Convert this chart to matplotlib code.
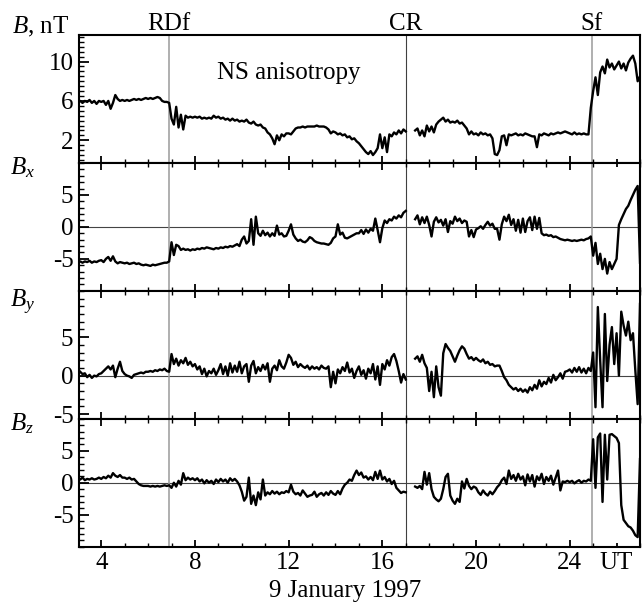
import numpy as np
import matplotlib
matplotlib.use("Agg")
import matplotlib.pyplot as plt
from matplotlib.ticker import MultipleLocator, FixedLocator

plt.rcParams['font.family'] = ['Liberation Serif', 'DejaVu Serif']
plt.rcParams['mathtext.fontset'] = 'custom'
plt.rcParams['mathtext.rm'] = 'Liberation Serif'
plt.rcParams['mathtext.it'] = 'Liberation Serif:italic'
plt.rcParams['axes.unicode_minus'] = False

nan = np.nan
# time grid in hours UT (9 January 1997), 0.1 h sampling
t = np.round(np.arange(3.0, 27.05, 0.1), 1)

B = (
    [5.9, 6.0, 5.8, 6.0, 5.9, 6.1, 5.8, 6.0, 5.7, 6.0] +
    [5.9, 6.0, 5.6, 6.0, 5.2, 5.8, 6.6, 6.2, 6.0, 6.1] +
    [6.0, 6.1, 6.0, 6.1, 6.2, 6.1, 6.2, 6.1, 6.2, 6.3] +
    [6.2, 6.3, 6.2, 6.3, 6.4, 6.3, 6.0, 5.9, 5.9, 5.8] +
    [4.2, 3.6, 5.4, 3.3, 4.6, 3.1, 4.5, 4.3, 4.4, 4.3] +
    [4.4, 4.3, 4.4, 4.2, 4.3, 4.2, 4.3, 4.2, 4.5, 4.3] +
    [4.4, 4.2, 4.3, 4.1, 4.2, 4.0, 4.2, 4.0, 4.1, 3.9] +
    [4.0, 3.9, 4.1, 3.8, 3.7, 3.9, 3.6, 3.5, 3.6, 3.3] +
    [3.2, 2.8, 2.6, 2.2, 1.6, 2.5, 2.0, 2.6, 2.4, 2.7] +
    [2.7, 2.6, 2.9, 3.2, 3.3, 3.3, 3.4, 3.3, 3.4, 3.4] +
    [3.4, 3.4, 3.5, 3.4, 3.4, 3.4, 3.3, 3.1, 2.7, 2.9] +
    [2.8, 2.6, 2.7, 2.5, 2.6, 2.3, 2.4, 2.1, 2.2, 1.9] +
    [1.7, 1.4, 1.1, 0.8, 0.6, 0.9, 0.5, 0.8, 1.2, 2.6] +
    [1.2, 2.3, 0.8, 2.6, 2.4, 2.8, 2.6, 3.0, 2.7, 3.1] +
    [2.9, nan, nan, nan, 3.0, 3.2, 2.5, 3.0, 2.4, 3.5] +
    [2.9, 3.4, 2.8, 3.6, 3.9, 4.1, 4.3, 3.9, 4.1, 3.8] +
    [3.9, 3.8, 4.0, 3.7, 3.8, 3.5, 3.2, 2.6, 2.9, 2.6] +
    [2.7, 2.5, 2.8, 2.6, 2.7, 2.5, 2.6, 2.2, 0.6, 0.5] +
    [1.0, 2.4, 2.5, 1.5, 2.6, 2.5, 2.6, 2.7, 2.5, 2.6] +
    [2.5, 2.7, 2.6, 2.5, 2.4, 2.4, 1.3, 2.6, 2.5, 2.7] +
    [2.6, 2.5, 2.7, 2.6, 2.7, 2.8, 2.7, 2.8, 2.9, 2.8] +
    [2.7, 2.6, 2.8, 2.6, 2.7, 2.6, 2.7, 2.6, 2.6, 5.3] +
    [7.0, 8.4, 6.6, 8.9, 9.5, 8.8, 10.2, 9.4, 9.8, 9.2] +
    [9.6, 10.0, 9.3, 9.8, 9.1, 9.9, 10.3, 10.6, 9.8, 8.0] +
    [8.5]
)

Bx = (
    [-5.5, -5.4, -5.6, -5.4, -5.5, -5.3, -5.6, -5.4, -5.5, -5.3] +
    [-5.2, -5.5, -5.0, -4.7, -5.3, -4.6, -5.4, -5.7, -5.5, -5.6] +
    [-5.7, -5.6, -5.8, -5.7, -5.6, -5.8, -5.7, -5.9, -6.0, -5.9] +
    [-6.0, -6.1, -5.9, -6.0, -5.9, -5.8, -5.7, -5.6, -5.6, -5.4] +
    [-2.4, -4.4, -2.8, -3.0, -3.6, -3.4, -3.6, -3.5, -3.7, -3.5] +
    [-3.6, -3.4, -3.5, -3.3, -3.4, -3.2, -3.3, -3.4, -3.5, -3.3] +
    [-3.4, -3.2, -3.3, -3.1, -3.2, -3.0, -3.1, -2.9, -2.7, -3.0] +
    [-2.0, -1.5, -2.6, -2.2, 1.2, -2.8, 1.6, -1.0, -1.4, -0.6] +
    [-1.3, -0.9, -1.5, -1.0, -1.4, 0.2, -1.2, -1.0, -1.5, -1.4] +
    [-0.6, 0.4, -1.2, -1.8, -2.2, -2.0, -2.3, -2.4, -2.1, -1.6] +
    [-1.8, -2.2, -2.4, -2.5, -2.6, -2.6, -2.7, -2.8, -2.5, -1.8] +
    [-1.5, 0.4, -1.2, -0.9, -1.7, -1.8, -1.6, -1.4, -1.2, -1.0] +
    [-1.0, -0.5, -1.1, -0.4, -0.9, -0.3, -0.6, 1.3, -0.5, -2.4] +
    [-0.2, 1.0, 0.6, 1.2, 1.0, 1.6, 1.3, 1.8, 1.5, 2.2] +
    [2.5, nan, nan, nan, 1.2, 1.8, 0.4, 1.5, 0.6, 1.6] +
    [0.3, -1.5, 0.8, 1.5, 0.7, 1.1, 0.2, 1.2, -0.8, 0.9] +
    [0.5, 1.6, 0.9, 1.3, 0.6, 1.0, 0.8, -1.5, -0.5, -1.6] +
    [-0.4, -0.2, 0.1, -0.3, 0.3, 0.8, 0.2, 0.5, -0.3, -0.3] +
    [-2.0, 0.4, 1.6, 0.9, 1.9, 0.3, 1.2, -0.6, 1.1, -0.9] +
    [1.3, -0.8, 0.9, 1.5, -0.5, 1.6, -0.3, 1.4, -1.0, -1.3] +
    [-1.2, -1.4, -1.3, -1.6, -1.5, -1.7, -1.9, -2.0, -2.1, -2.0] +
    [-2.1, -2.2, -2.1, -2.2, -2.1, -2.0, -2.1, -1.9, -1.8, -1.5] +
    [-4.5, -2.5, -5.8, -4.2, -6.6, -5.0, -7.3, -5.5, -6.6, -5.8] +
    [-5.0, 0.3, 1.2, 2.0, 2.8, 3.3, 4.2, 5.0, 5.8, 6.4] +
    [-5.6]
)

By = (
    [0.8, 0.5, 0.2, 0.3, -0.2, 0.1, -0.3, 0.0, -0.1, 0.2] +
    [0.3, 0.6, 0.9, 1.2, 0.8, 1.3, -0.2, 0.9, 1.8, 0.6] +
    [0.2, 0.0, -0.1, -0.3, 0.1, 0.2, 0.3, 0.4, 0.3, 0.5] +
    [0.5, 0.6, 0.5, 0.7, 0.6, 0.8, 0.7, 0.9, 0.6, 0.5] +
    [2.8, 1.5, 2.2, 1.3, 2.0, 1.6, 2.3, 1.4, 1.8, 1.2] +
    [1.5, 0.8, 1.2, 0.2, 0.9, -0.1, 0.6, 0.3, 0.9, 0.1] +
    [0.7, 1.5, 0.2, 1.2, 0.0, 1.6, 0.4, 1.3, 0.5, 1.8] +
    [0.3, 1.2, 1.5, -0.8, 1.3, 1.9, 0.3, 1.1, 0.6, 1.4] +
    [0.8, 1.6, -0.8, 0.9, 1.3, 0.7, 2.0, 1.2, 0.9, 1.7] +
    [2.7, 2.3, 1.4, 1.8, 1.1, 1.5, 1.2, 1.0, 1.3, 0.8] +
    [1.2, 0.9, 1.1, 0.8, 1.3, 1.0, 0.9, 1.2, -1.5, 0.5] +
    [-1.0, 0.8, 0.3, 1.1, 0.6, 1.7, 0.4, 0.9, -0.3, 0.6] +
    [1.2, 0.1, 0.7, -0.4, 0.9, 0.3, 1.5, -0.5, 1.2, -1.2] +
    [1.5, 0.8, 2.0, 1.3, 2.4, 2.8, 1.9, 0.6, -0.9, 0.2] +
    [-0.5, nan, nan, nan, 2.2, 2.5, 1.8, 2.7, 1.6, 1.0] +
    [-2.0, 0.5, -2.8, 1.2, -1.5, -2.6, 2.9, 4.1, 3.6, 3.2] +
    [2.5, 1.8, 2.6, 3.3, 3.8, 3.5, 2.8, 2.2, 2.4, 2.0] +
    [2.3, 2.0, 1.8, 2.1, 1.6, 1.8, 1.4, 1.5, 1.2, 1.3] +
    [1.3, 0.6, -0.2, -0.6, -1.2, -1.5, -1.8, -1.6, -2.0, -1.7] +
    [-2.1, -1.8, -2.2, -1.5, -1.9, -1.2, -1.7, -0.6, -1.4, -0.8] +
    [-1.1, -0.3, -0.9, 0.1, -0.6, -0.2, 0.3, -0.4, 0.5, 0.6] +
    [0.8, 0.4, 1.0, 0.5, 1.1, 0.4, 0.9, 0.3, 1.0, 0.6] +
    [3.0, -4.1, 8.9, 2.0, -4.1, 8.0, -0.7, 4.0, 6.3, 1.5] +
    [5.5, 0.0, 8.3, 6.5, 5.2, 7.0, 4.6, 5.5, 0.7, -3.7] +
    [9.3]
)

Bz = (
    [0.7, 0.5, 0.8, 0.4, 0.6, 0.5, 0.7, 0.5, 0.6, 0.8] +
    [0.6, 0.9, 0.7, 1.1, 0.8, 1.5, 1.1, 0.9, 1.2, 0.8] +
    [0.8, 0.6, 0.8, 0.5, 0.6, 0.2, -0.2, -0.4, -0.5, -0.5] +
    [-0.5, -0.6, -0.5, -0.6, -0.5, -0.6, -0.5, -0.4, -0.5, -0.4] +
    [-0.8, 0.0, -0.6, 0.3, -0.3, 1.5, 0.4, 0.8, 0.5, 0.7] +
    [0.4, 0.7, 0.2, 0.5, -0.1, 0.4, 0.0, 0.3, -0.2, 0.5] +
    [0.1, 0.6, 0.2, 0.5, 0.0, 0.7, 0.3, 0.6, 0.2, -0.4] +
    [-1.4, -2.8, -2.2, 0.8, -3.3, -2.0, -3.5, -1.5, -2.6, 0.5] +
    [-2.0, -1.5, -1.8, -1.3, -1.7, -1.4, -1.8, -1.5, -1.6, -1.3] +
    [-1.5, -0.3, -1.4, -1.8, -1.6, -2.0, -1.2, -1.7, -2.2, -2.0] +
    [-1.9, -1.4, -2.2, -1.8, -1.6, -2.0, -1.5, -1.9, -1.3, -1.7] +
    [-1.9, -1.3, -1.8, -0.9, -0.3, 0.0, 0.5, 0.3, 1.2, 1.9] +
    [1.2, 1.6, 0.8, 1.0, 0.5, 0.9, 0.4, 1.7, 0.6, 1.9] +
    [0.5, 0.9, 0.2, 0.6, -0.2, 0.3, -0.8, -1.2, -1.6, -1.4] +
    [-1.5, nan, nan, nan, -0.6, -0.8, -0.5, -1.0, 1.7, -0.3] +
    [1.5, -1.0, -2.2, -2.6, -2.9, -2.5, -1.0, 0.9, 1.4, -2.0] +
    [-2.8, -3.3, -2.5, -3.0, 0.2, -0.9, 0.6, -0.5, -1.0, -0.6] +
    [-0.8, -1.5, -1.9, -1.2, -1.7, -2.0, -1.4, -1.8, -1.3, -0.7] +
    [-0.3, 0.4, 0.8, -0.2, 1.9, 0.6, 1.2, 0.3, 1.4, 0.5] +
    [1.0, -0.4, 1.3, 0.2, 1.2, -0.6, 1.0, 0.4, 1.4, -0.2] +
    [0.9, 0.3, 1.1, -0.3, 0.8, 1.9, -1.2, 0.2, 0.1, 0.3] +
    [0.1, 0.3, -0.1, 0.2, 0.4, 0.0, 0.3, 0.2, 0.5, 0.3] +
    [6.8, -0.8, 7.1, 7.7, -3.0, 7.5, 0.5, 7.5, 7.6, 7.3] +
    [7.0, 6.2, -3.5, -5.8, -6.3, -6.8, -7.0, -7.5, -8.2, -8.5] +
    [3.7]
)

series = [B, Bx, By, Bz]
ylabels = [r'$B$, nT', r'$B_x$', r'$B_y$', r'$B_z$']
ylims = [(-0.3, 12.7), (-10, 10), (-5.6, 11.0), (-10, 10)]
yticks = [[2, 6, 10], [-5, 0, 5], [-5, 0, 5], [-5, 0, 5]]
yminor = [0.5, 1, 1, 1]

event_times = [6.9, 17.0, 24.95]
event_labels = ['RDf', 'CR', 'Sf']
event_colors = ['#9a9a9a', '#404040', '#9a9a9a']

xmajor = [4, 8, 12, 16, 20, 24, 26]
xlabels = ['4', '8', '12', '16', '20', '24', 'UT']

fig = plt.figure(figsize=(6.42, 6.05), dpi=100)
gs = fig.add_gridspec(4, 1, left=79/642, right=640/642, top=1-35/605,
                      bottom=1-546.7/605, hspace=0)
axes = [fig.add_subplot(gs[i]) for i in range(4)]
FS = 18

for i, ax in enumerate(axes):
    y = np.array(series[i], dtype=float)
    if i > 0:
        ax.axhline(0, color='#444444', lw=0.8, zorder=1)
    for et, ec in zip(event_times, event_colors):
        ax.axvline(et, color=ec, lw=1.1 if ec != '#404040' else 0.8, zorder=1)
    ax.plot(t, y, color='black', lw=1.7, zorder=3)
    ax.set_xlim(3.05, 27.0)
    ax.set_ylim(*ylims[i])
    ax.set_yticks(yticks[i])
    ax.yaxis.set_minor_locator(MultipleLocator(yminor[i]))
    ax.xaxis.set_major_locator(FixedLocator(xmajor))
    ax.xaxis.set_minor_locator(MultipleLocator(1))
    for s in ax.spines.values():
        s.set_linewidth(1.5)
    ax.tick_params(axis='y', which='major', direction='in', length=7, width=1.3,
                   labelsize=FS, pad=4, right=False)
    ax.tick_params(axis='y', which='minor', direction='in', length=3.5, width=1.0,
                   right=False)
    ax.tick_params(axis='x', which='major', direction='in', length=5, width=1.3,
                   top=(i > 0), labelsize=FS, pad=4)
    ax.tick_params(axis='x', which='minor', direction='in', length=3, width=1.0,
                   top=(i > 0))
    if i < 3:
        ax.set_xticklabels([])
    else:
        ax.set_xticklabels(xlabels)
    tk = ax.xaxis.get_major_ticks()[-1]
    tk.tick1line.set_markersize(3)
    tk.tick2line.set_markersize(3)

# panel labels
fig.text(12/642, 1-33/605, ylabels[0], fontsize=FS, ha='left', va='baseline')
for i, yy in zip([1, 2, 3], [174, 307, 430]):
    fig.text(10/642, 1-yy/605, ylabels[i], fontsize=FS, ha='left', va='baseline')

# event labels above top panel
for et, lab in zip(event_times, event_labels):
    axes[0].text(et, 1.0 + 5/128, lab, transform=axes[0].get_xaxis_transform(),
                 ha='center', va='baseline', fontsize=FS)

axes[0].text(12.0, 8.25, 'NS anisotropy', ha='center', va='baseline', fontsize=FS)
fig.text(345/642, 1-597/605, '9 January 1997', ha='center', va='baseline', fontsize=FS)

fig.savefig('out.png', dpi=100)
